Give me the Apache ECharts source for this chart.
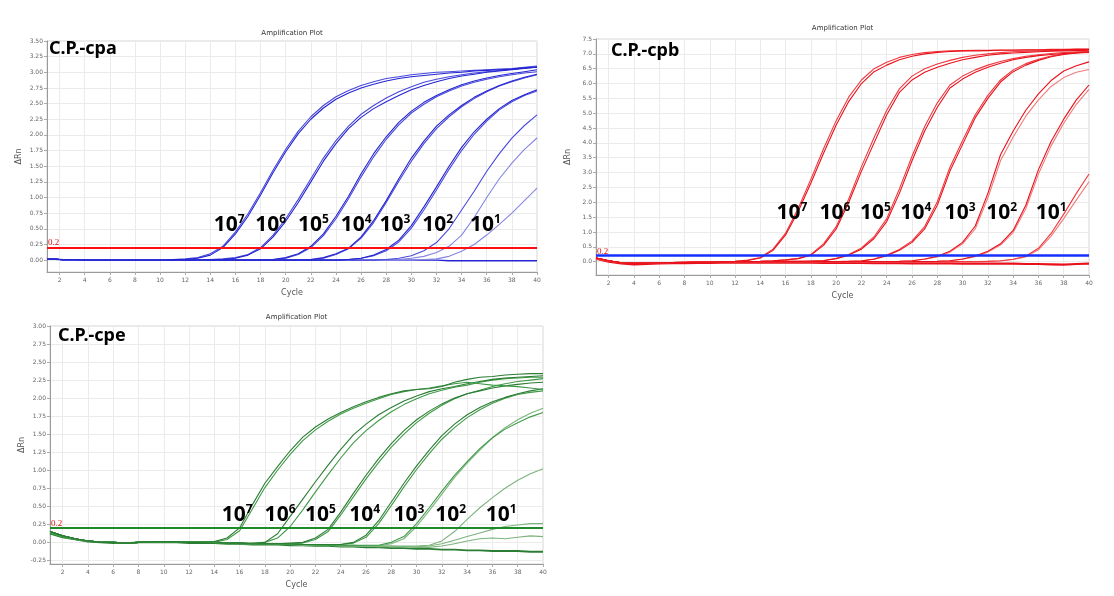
<!DOCTYPE html>
<html><head><meta charset="utf-8">
<script src="https://cdn.jsdelivr.net/npm/echarts@6/dist/echarts.min.js"></script>
<style>html,body{margin:0;padding:0;background:#fff}#c{width:1114px;height:596px}</style>
</head><body><div id="c"></div>
<script>
const cycles = [1,2,3,4,5,6,7,8,9,10,11,12,13,14,15,16,17,18,19,20,21,22,23,24,25,26,27,28,29,30,31,32,33,34,35,36,37,38,39,40];
const xTicks = [2,4,6,8,10,12,14,16,18,20,22,24,26,28,30,32,34,36,38,40];
const cpaTicks = [0,0.25,0.5,0.75,1,1.25,1.5,1.75,2,2.25,2.5,2.75,3,3.25,3.5];
const cpbTicks = [0,0.5,1,1.5,2,2.5,3,3.5,4,4.5,5,5.5,6,6.5,7,7.5];
const cpeTicks = [-0.25,0,0.25,0.5,0.75,1,1.25,1.5,1.75,2,2.25,2.5,2.75,3];
const dilutionExponents = ['7','6','5','4','3','2','1'];
const threshold = 0.2;

// ---- C.P.-cpa (blue) ----
const cpa_7a = [0.02,0.01,0.01,0.00,0.00,0.00,0.00,0.00,0.00,0.00, 0.01,0.01,0.03,0.08,0.20,0.42,0.70,1.04,1.40,1.73, 2.02,2.25,2.43,2.57,2.67,2.75,2.81,2.86,2.90,2.93, 2.95,2.97,2.99,3.00,3.02,3.03,3.04,3.05,3.07,3.08];
const cpa_7b = [0.02,0.01,0.00,0.00,0.00,0.00,0.00,0.00,0.00,0.00, 0.01,0.02,0.04,0.10,0.22,0.45,0.74,1.08,1.44,1.77, 2.06,2.29,2.47,2.61,2.71,2.79,2.85,2.90,2.93,2.96, 2.98,3.00,3.01,3.02,3.03,3.04,3.05,3.06,3.08,3.10];
const cpa_6a = [0.02,0.01,0.00,0.00,0.00,0.00,0.00,0.00,0.00,0.00, 0.00,0.00,0.00,0.01,0.01,0.03,0.08,0.18,0.37,0.62, 0.92,1.25,1.58,1.86,2.10,2.28,2.42,2.53,2.63,2.72, 2.79,2.85,2.90,2.94,2.97,3.00,3.02,3.04,3.06,3.08];
const cpa_6b = [0.02,0.01,0.00,0.00,0.00,0.00,0.00,0.00,0.00,0.00, 0.00,0.00,0.00,0.01,0.02,0.04,0.09,0.20,0.40,0.66, 0.97,1.30,1.63,1.91,2.14,2.33,2.47,2.59,2.69,2.77, 2.84,2.89,2.93,2.96,2.99,3.01,3.03,3.05,3.07,3.09];
const cpa_5a = [0.02,0.01,0.00,0.00,0.00,0.00,0.00,0.00,0.00,0.00, 0.00,0.00,0.00,0.00,0.00,0.00,0.00,0.00,0.01,0.04, 0.10,0.22,0.42,0.70,1.02,1.38,1.70,1.97,2.20,2.38, 2.52,2.63,2.72,2.80,2.86,2.91,2.95,2.98,3.01,3.04];
const cpa_5b = [0.02,0.01,0.00,0.00,0.00,0.00,0.00,0.00,0.00,0.00, 0.00,0.00,0.00,0.00,0.00,0.00,0.00,0.00,0.01,0.03, 0.09,0.20,0.39,0.66,0.98,1.33,1.65,1.93,2.16,2.35, 2.49,2.61,2.70,2.78,2.84,2.89,2.93,2.96,2.99,3.01];
const cpa_4a = [0.02,0.01,0.00,0.00,0.00,0.00,0.00,0.00,0.00,0.00, 0.00,0.00,0.00,0.00,0.00,0.00,0.00,0.00,0.00,0.00, 0.00,0.01,0.04,0.10,0.19,0.37,0.63,0.95,1.30,1.63, 1.90,2.14,2.32,2.47,2.60,2.70,2.79,2.86,2.92,2.97];
const cpa_4b = [0.02,0.01,0.00,0.00,0.00,0.00,0.00,0.00,0.00,0.00, 0.00,0.00,0.00,0.00,0.00,0.00,0.00,0.00,0.00,0.00, 0.00,0.01,0.03,0.09,0.18,0.35,0.60,0.92,1.26,1.58, 1.86,2.10,2.29,2.45,2.58,2.69,2.78,2.85,2.91,2.96];
const cpa_3a = [0.02,0.01,0.00,0.00,0.00,0.00,0.00,0.00,0.00,0.00, 0.00,0.00,0.00,0.00,0.00,0.00,0.00,0.00,0.00,0.00, 0.00,0.00,0.00,0.00,0.01,0.03,0.08,0.17,0.32,0.55, 0.85,1.17,1.50,1.80,2.05,2.25,2.42,2.55,2.64,2.72];
const cpa_3b = [0.02,0.01,0.00,0.00,0.00,0.00,0.00,0.00,0.00,0.00, 0.00,0.00,0.00,0.00,0.00,0.00,0.00,0.00,0.00,0.00, 0.00,0.00,0.00,0.00,0.01,0.03,0.07,0.15,0.29,0.51, 0.80,1.12,1.45,1.75,2.01,2.22,2.40,2.53,2.63,2.70];
const cpa_2a = [0.02,0.01,0.00,0.00,0.00,0.00,0.00,0.00,0.00,0.00, 0.00,0.00,0.00,0.00,0.00,0.00,0.00,0.00,0.00,0.00, 0.00,0.00,0.00,0.00,0.00,0.00,0.00,0.01,0.03,0.07, 0.15,0.28,0.50,0.80,1.10,1.42,1.70,1.95,2.15,2.32];
const cpa_2b = [0.02,0.01,0.00,0.00,0.00,0.00,0.00,0.00,0.00,0.00, 0.00,0.00,0.00,0.00,0.00,0.00,0.00,0.00,0.00,0.00, 0.00,0.00,0.00,0.00,0.00,0.00,0.00,0.00,0.01,0.03, 0.06,0.12,0.22,0.40,0.68,1.00,1.30,1.55,1.77,1.95];
const cpa_1a = [0.02,0.01,0.00,0.00,0.00,0.00,0.00,0.00,0.00,0.00, 0.00,0.00,0.00,0.00,0.00,0.00,0.00,0.00,0.00,0.00, 0.00,0.00,0.00,0.00,0.00,0.00,0.00,0.00,0.00,0.00, 0.01,0.02,0.06,0.14,0.25,0.40,0.57,0.75,0.95,1.15];
const cpa_neg = [0.02,0.01,0.00,0.00,0.00,0.00,0.00,0.00,0.00,0.00, 0.00,0.00,0.00,0.00,0.00,0.00,0.00,0.00,0.00,0.00, 0.00,0.00,0.00,0.00,0.00,0.00,0.00,0.00,0.00,0.00, 0.00,0.00,-0.01,-0.01,-0.01,-0.01,-0.01,-0.01,-0.01,-0.01];

// ---- C.P.-cpb (red) ----
const cpb_7a = [0.12,0.03,-0.04,-0.06,-0.05,-0.04,-0.03,-0.03,-0.02,-0.01, 0.00,0.01,0.04,0.12,0.38,0.90,1.70,2.65,3.65,4.60, 5.40,6.00,6.40,6.62,6.80,6.92,7.00,7.05,7.08,7.10, 7.10,7.11,7.12,7.12,7.13,7.13,7.14,7.14,7.15,7.15];
const cpb_7b = [0.10,0.02,-0.04,-0.05,-0.05,-0.04,-0.03,-0.02,-0.02,-0.01, 0.00,0.01,0.05,0.14,0.42,0.96,1.80,2.78,3.80,4.75, 5.55,6.12,6.50,6.72,6.88,6.98,7.04,7.08,7.10,7.11, 7.12,7.12,7.13,7.13,7.14,7.14,7.15,7.15,7.16,7.16];
const cpb_6a = [0.12,0.03,-0.04,-0.06,-0.05,-0.04,-0.03,-0.03,-0.02,-0.02, -0.01,0.00,0.00,0.01,0.03,0.06,0.10,0.22,0.55,1.10, 2.00,3.05,4.00,4.95,5.70,6.12,6.38,6.55,6.68,6.80, 6.88,6.95,7.00,7.03,7.05,7.07,7.09,7.10,7.11,7.12];
const cpb_6b = [0.10,0.02,-0.04,-0.05,-0.05,-0.04,-0.03,-0.02,-0.02,-0.02, -0.01,0.00,0.00,0.01,0.03,0.06,0.11,0.24,0.60,1.18, 2.12,3.20,4.18,5.10,5.82,6.25,6.50,6.66,6.78,6.88, 6.95,7.00,7.04,7.07,7.09,7.10,7.11,7.12,7.13,7.13];
const cpb_5a = [0.12,0.03,-0.04,-0.06,-0.05,-0.04,-0.03,-0.03,-0.02,-0.02, -0.01,0.00,0.00,0.00,0.00,0.01,0.01,0.02,0.03,0.10, 0.22,0.42,0.78,1.35,2.30,3.40,4.40,5.20,5.85,6.15, 6.38,6.55,6.68,6.80,6.88,6.94,6.98,7.01,7.03,7.05];
const cpb_5b = [0.10,0.02,-0.04,-0.05,-0.05,-0.04,-0.03,-0.02,-0.02,-0.02, -0.01,0.00,0.00,0.00,0.00,0.01,0.01,0.02,0.04,0.11, 0.24,0.46,0.84,1.45,2.45,3.55,4.55,5.35,5.95,6.25, 6.46,6.62,6.74,6.84,6.92,6.97,7.01,7.04,7.06,7.08];
const cpb_4a = [0.12,0.03,-0.04,-0.06,-0.05,-0.04,-0.03,-0.03,-0.02,-0.02, -0.01,0.00,0.00,0.00,0.00,0.00,0.00,0.00,0.00,0.00, 0.01,0.02,0.08,0.20,0.38,0.65,1.10,1.90,3.05,3.95, 4.85,5.50,6.05,6.40,6.62,6.78,6.90,6.98,7.03,7.07];
const cpb_4b = [0.10,0.02,-0.04,-0.05,-0.05,-0.04,-0.03,-0.02,-0.02,-0.02, -0.01,0.00,0.00,0.00,0.00,0.00,0.00,0.00,0.00,0.00, 0.01,0.03,0.09,0.22,0.41,0.70,1.18,2.02,3.18,4.08, 4.95,5.60,6.12,6.46,6.67,6.82,6.93,7.00,7.05,7.09];
const cpb_3a = [0.12,0.03,-0.04,-0.06,-0.05,-0.04,-0.03,-0.03,-0.02,-0.02, -0.01,0.00,0.00,0.00,0.00,0.00,0.00,0.00,0.00,0.00, 0.00,0.00,0.00,0.00,0.01,0.03,0.09,0.18,0.35,0.65, 1.20,2.30,3.60,4.40,5.10,5.65,6.10,6.42,6.60,6.73];
const cpb_3b = [0.10,0.02,-0.04,-0.05,-0.05,-0.04,-0.03,-0.02,-0.02,-0.02, -0.01,0.00,0.00,0.00,0.00,0.00,0.00,0.00,0.00,0.00, 0.00,0.00,0.00,0.00,0.01,0.03,0.08,0.16,0.32,0.60, 1.10,2.15,3.40,4.20,4.90,5.45,5.90,6.20,6.38,6.47];
const cpb_2a = [0.12,0.03,-0.04,-0.06,-0.05,-0.04,-0.03,-0.03,-0.02,-0.02, -0.01,0.00,0.00,0.00,0.00,0.00,0.00,0.00,0.00,0.00, 0.00,0.00,0.00,0.00,0.00,0.00,0.00,0.01,0.03,0.09, 0.19,0.35,0.60,1.05,1.90,3.10,4.05,4.80,5.45,5.95];
const cpb_2b = [0.10,0.02,-0.04,-0.05,-0.05,-0.04,-0.03,-0.02,-0.02,-0.02, -0.01,0.00,0.00,0.00,0.00,0.00,0.00,0.00,0.00,0.00, 0.00,0.00,0.00,0.00,0.00,0.00,0.00,0.01,0.03,0.08, 0.17,0.32,0.56,0.98,1.78,2.95,3.90,4.66,5.30,5.80];
const cpb_1a = [0.12,0.03,-0.04,-0.06,-0.05,-0.04,-0.03,-0.03,-0.02,-0.02, -0.01,0.00,0.00,0.00,0.00,0.00,0.00,0.00,0.00,0.00, 0.00,0.00,0.00,0.00,0.00,0.00,0.00,0.00,0.00,0.00, 0.00,0.01,0.03,0.08,0.18,0.45,0.95,1.60,2.30,2.95];
const cpb_1b = [0.10,0.02,-0.04,-0.05,-0.05,-0.04,-0.03,-0.02,-0.02,-0.02, -0.01,0.00,0.00,0.00,0.00,0.00,0.00,0.00,0.00,0.00, 0.00,0.00,0.00,0.00,0.00,0.00,0.00,0.00,0.00,0.00, 0.00,0.01,0.02,0.07,0.16,0.40,0.86,1.45,2.08,2.69];
const cpb_neg = [0.10,0.00,-0.06,-0.09,-0.08,-0.06,-0.05,-0.05,-0.04,-0.04, -0.03,-0.03,-0.03,-0.03,-0.03,-0.03,-0.03,-0.03,-0.04,-0.04, -0.04,-0.04,-0.05,-0.05,-0.05,-0.06,-0.06,-0.06,-0.06,-0.07, -0.07,-0.07,-0.07,-0.07,-0.08,-0.08,-0.09,-0.10,-0.08,-0.07];

// ---- C.P.-cpe (green) ----
const cpe_7a = [0.15,0.09,0.05,0.02,0.00,0.00,-0.01,0.00,0.01,0.01, 0.01,0.00,0.00,0.01,0.06,0.20,0.52,0.82,1.05,1.27, 1.46,1.60,1.71,1.80,1.88,1.95,2.01,2.06,2.10,2.12, 2.13,2.16,2.22,2.26,2.29,2.30,2.32,2.33,2.34,2.34];
const cpe_7b = [0.13,0.08,0.04,0.02,0.00,0.00,-0.01,0.00,0.01,0.01, 0.01,0.00,0.00,0.00,0.04,0.16,0.46,0.76,1.00,1.22, 1.41,1.56,1.68,1.78,1.86,1.93,1.99,2.05,2.09,2.12, 2.14,2.17,2.20,2.22,2.20,2.18,2.17,2.16,2.14,2.12];
const cpe_6a = [0.15,0.09,0.05,0.02,0.00,0.00,-0.01,0.00,0.01,0.01, 0.01,0.00,0.00,0.00,-0.01,-0.01,-0.01,0.00,0.12,0.36, 0.60,0.84,1.07,1.29,1.49,1.64,1.77,1.87,1.96,2.03, 2.09,2.13,2.16,2.20,2.23,2.26,2.28,2.29,2.30,2.31];
const cpe_6b = [0.13,0.08,0.04,0.02,0.00,0.00,-0.01,0.00,0.01,0.01, 0.01,0.00,0.00,0.00,-0.01,-0.02,-0.02,0.00,0.06,0.22, 0.45,0.70,0.94,1.17,1.38,1.55,1.69,1.81,1.91,1.99, 2.06,2.11,2.15,2.18,2.22,2.25,2.27,2.28,2.29,2.29];
const cpe_5a = [0.15,0.09,0.05,0.02,0.00,0.00,-0.01,0.00,0.01,0.01, 0.01,0.00,0.00,0.00,-0.01,-0.01,-0.02,-0.02,-0.02,-0.01, 0.00,0.06,0.18,0.42,0.68,0.93,1.16,1.37,1.55,1.70, 1.82,1.92,2.00,2.06,2.10,2.14,2.17,2.19,2.21,2.22];
const cpe_5b = [0.13,0.08,0.04,0.02,0.00,0.00,-0.01,0.00,0.01,0.01, 0.01,0.00,0.00,0.00,-0.01,-0.02,-0.02,-0.03,-0.03,-0.02, -0.01,0.04,0.15,0.38,0.63,0.88,1.11,1.32,1.50,1.66, 1.79,1.90,1.99,2.06,2.11,2.16,2.20,2.23,2.25,2.27];
const cpe_4a = [0.15,0.09,0.05,0.02,0.00,0.00,-0.01,0.00,0.01,0.01, 0.01,0.00,0.00,0.00,-0.01,-0.01,-0.02,-0.02,-0.02,-0.02, -0.03,-0.03,-0.03,-0.03,0.00,0.10,0.30,0.56,0.82,1.06, 1.28,1.48,1.64,1.77,1.87,1.95,2.01,2.06,2.10,2.13];
const cpe_4b = [0.13,0.08,0.04,0.02,0.00,0.00,-0.01,0.00,0.01,0.01, 0.01,0.00,0.00,0.00,-0.01,-0.02,-0.02,-0.03,-0.03,-0.03, -0.03,-0.04,-0.04,-0.03,-0.01,0.07,0.26,0.51,0.77,1.01, 1.23,1.43,1.59,1.73,1.84,1.93,2.00,2.05,2.08,2.10];
const cpe_3a = [0.15,0.09,0.05,0.02,0.00,0.00,-0.01,0.00,0.01,0.01, 0.01,0.00,0.00,0.00,-0.01,-0.01,-0.02,-0.02,-0.02,-0.03, -0.03,-0.03,-0.04,-0.04,-0.04,-0.04,-0.04,0.00,0.08,0.26, 0.48,0.71,0.93,1.12,1.30,1.45,1.57,1.66,1.74,1.80];
const cpe_3b = [0.13,0.08,0.04,0.02,0.00,0.00,-0.01,0.00,0.01,0.01, 0.01,0.00,0.00,0.00,-0.01,-0.02,-0.02,-0.03,-0.03,-0.03, -0.04,-0.04,-0.04,-0.05,-0.05,-0.05,-0.05,-0.02,0.05,0.22, 0.44,0.67,0.90,1.10,1.28,1.45,1.59,1.70,1.79,1.86];
const cpe_2a = [0.15,0.09,0.05,0.02,0.00,0.00,-0.01,0.00,0.01,0.01, 0.01,0.00,0.00,0.00,-0.01,-0.01,-0.02,-0.02,-0.02,-0.03, -0.03,-0.03,-0.04,-0.04,-0.04,-0.05,-0.05,-0.05,-0.05,-0.05, -0.04,0.02,0.15,0.32,0.48,0.62,0.75,0.86,0.95,1.02];
const cpe_1a = [0.15,0.09,0.05,0.02,0.00,0.00,-0.01,0.00,0.01,0.01, 0.01,0.00,0.00,0.00,-0.01,-0.01,-0.02,-0.02,-0.02,-0.03, -0.03,-0.03,-0.04,-0.04,-0.04,-0.05,-0.05,-0.05,-0.06,-0.06, -0.05,-0.02,0.03,0.08,0.13,0.18,0.22,0.24,0.26,0.26];
const cpe_1b = [0.13,0.08,0.04,0.02,0.00,0.00,-0.01,0.00,0.01,0.01, 0.01,0.00,0.00,0.00,-0.01,-0.02,-0.02,-0.03,-0.03,-0.03, -0.04,-0.04,-0.04,-0.05,-0.05,-0.05,-0.06,-0.06,-0.06,-0.07, -0.07,-0.05,-0.02,0.02,0.05,0.06,0.05,0.07,0.09,0.08];
const cpe_neg = [0.12,0.07,0.04,0.01,0.00,-0.01,-0.01,0.00,0.00,0.00, 0.00,-0.01,-0.01,-0.01,-0.02,-0.02,-0.03,-0.03,-0.03,-0.04, -0.04,-0.05,-0.05,-0.06,-0.06,-0.07,-0.07,-0.08,-0.08,-0.09, -0.09,-0.10,-0.10,-0.11,-0.11,-0.12,-0.12,-0.12,-0.13,-0.13];

// ---------- layout / style ----------
const B = ['#2424d2', '#4848dc', '#8585e2'];
const R = ['#e8101a', '#f0383e', '#f27a7a'];
const G = ['#2b7d33', '#3f9a47', '#7cb47c'];
const panels = [
  { name:'C.P.-cpa', grid:{left:47, top:41, width:490, height:231}, yMin:-0.19, yMax:3.5, yTicks:cpaTicks, dec:2,
    thrColor:'#ff1010', thrWidth:2,
    curves:[[cpa_neg,B[0],1.4],[cpa_1a,B[2],1.1],[cpa_2b,B[2],1.1],[cpa_2a,B[1],1.1],[cpa_3b,B[1],1.1],[cpa_3a,B[0],1.1],
            [cpa_4b,B[1],1.1],[cpa_4a,B[0],1.1],[cpa_5b,B[1],1.1],[cpa_5a,B[0],1.1],[cpa_6b,B[1],1.1],[cpa_6a,B[0],1.1],[cpa_7b,B[1],1.1],[cpa_7a,B[0],1.1]],
    labelAt:[[15.5,0.56],[18.8,0.56],[22.2,0.56],[25.6,0.56],[28.7,0.56],[32.1,0.56],[35.9,0.56]],
    tag:{x:49, y:40}, titleY:30 },
  { name:'C.P.-cpb', grid:{left:596, top:39, width:493, height:236}, yMin:-0.45, yMax:7.5, yTicks:cpbTicks, dec:1,
    thrColor:'#1530ff', thrWidth:2.5,
    curves:[[cpb_neg,R[0],2.2],[cpb_1b,R[2],1.1],[cpb_1a,R[1],1.1],[cpb_2b,R[2],1.1],[cpb_2a,R[0],1.1],[cpb_3b,R[2],1.1],[cpb_3a,R[0],1.1],
            [cpb_4b,R[1],1.1],[cpb_4a,R[0],1.1],[cpb_5b,R[1],1.1],[cpb_5a,R[0],1.1],[cpb_6b,R[1],1.1],[cpb_6a,R[0],1.1],[cpb_7b,R[1],1.1],[cpb_7a,R[0],1.1]],
    labelAt:[[16.5,1.64],[19.9,1.64],[23.1,1.64],[26.3,1.64],[29.8,1.64],[33.1,1.64],[37.0,1.64]],
    tag:{x:611, y:42}, titleY:25 },
  { name:'C.P.-cpe', grid:{left:50, top:326, width:493, height:238}, yMin:-0.30, yMax:3.0, yTicks:cpeTicks, dec:2,
    thrColor:'#1f8a2a', thrWidth:2,
    curves:[[cpe_neg,G[0],1.8],[cpe_1b,G[2],1.1],[cpe_1a,G[2],1.1],[cpe_2a,G[2],1.1],[cpe_3b,G[2],1.1],[cpe_3a,G[1],1.1],
            [cpe_4b,G[1],1.1],[cpe_4a,G[0],1.1],[cpe_5b,G[1],1.1],[cpe_5a,G[0],1.1],[cpe_6b,G[1],1.1],[cpe_6a,G[0],1.1],[cpe_7b,G[1],1.1],[cpe_7a,G[0],1.1]],
    labelAt:[[15.8,0.38],[19.2,0.38],[22.4,0.38],[25.9,0.38],[29.4,0.38],[32.7,0.38],[36.7,0.38]],
    tag:{x:58, y:327}, titleY:314 }
];

const grids = [], xAxes = [], yAxes = [], series = [], titles = [];
panels.forEach((p, i) => {
  grids.push(Object.assign({ show:true, borderColor:'#d4d4d4', borderWidth:1, backgroundColor:'#fff' }, p.grid));
  xAxes.push({ type:'value', gridIndex:i, min:1, max:40,
    name:'Cycle', nameLocation:'middle', nameGap:17, nameTextStyle:{ fontSize:8, color:'#555', fontFamily:'DejaVu Sans' },
    axisLine:{ onZero:false, lineStyle:{ color:'#9a9a9a' } },
    axisTick:{ customValues:xTicks, length:3, lineStyle:{ color:'#aaa' } },
    axisLabel:{ customValues:xTicks, fontSize:6, color:'#666', margin:5, fontFamily:'DejaVu Sans' },
    splitLine:{ show:true, lineStyle:{ color:'#ebebeb', width:1 } } });
  yAxes.push({ type:'value', gridIndex:i, min:p.yMin, max:p.yMax,
    name:'\u0394Rn', nameLocation:'middle', nameGap:24, nameRotate:90, nameTextStyle:{ fontSize:8, color:'#555', fontFamily:'DejaVu Sans' },
    axisLine:{ show:true, onZero:false, lineStyle:{ color:'#9a9a9a' } },
    axisTick:{ show:true, customValues:p.yTicks, length:3, lineStyle:{ color:'#aaa' } },
    axisLabel:{ customValues:p.yTicks, fontSize:6, color:'#666', margin:4, fontFamily:'DejaVu Sans',
      formatter: v => Number(v).toFixed(p.dec) },
    splitLine:{ show:true, lineStyle:{ color:'#ebebeb', width:1 } } });
  p.curves.forEach(c => {
    series.push({ type:'line', xAxisIndex:i, yAxisIndex:i, symbol:'none', silent:true, animation:false,
      lineStyle:{ color:c[1], width:c[2] }, data: cycles.map((x, k) => [x, c[0][k]]) });
  });
  series.push({ type:'line', xAxisIndex:i, yAxisIndex:i, data:[], symbol:'none', animation:false, z:5,
    markLine:{ silent:true, symbol:'none', animation:false,
      lineStyle:{ color:p.thrColor, width:p.thrWidth, type:'solid' },
      label:{ show:true, position:'insideStartTop', distance:[1,0], formatter:String(threshold), color:'#e01010', fontSize:9, fontFamily:'Liberation Serif' },
      data:[{ yAxis:threshold }] } });
  series.push({ type:'scatter', xAxisIndex:i, yAxisIndex:i, symbolSize:2, itemStyle:{ color:'rgba(0,0,0,0)', opacity:1 }, animation:false, z:10, silent:true,
    data: p.labelAt.map((pt, k) => [pt[0], pt[1], dilutionExponents[k]]),
    label:{ show:true, position:'inside', color:'#000', textBorderWidth:0, formatter: d => '{a|10}{s|' + d.data[2] + '}',
      rich:{ a:{ fontSize:21, fontWeight:'bold', color:'#000', textBorderWidth:0, fontFamily:'Noto Sans' },
             s:{ fontSize:12, fontWeight:'bold', color:'#000', textBorderWidth:0, fontFamily:'Noto Sans', padding:[0,0,10,0] } } } });
  titles.push({ text:'Amplification Plot', left:p.grid.left + p.grid.width/2, top:p.titleY, textAlign:'center', padding:0,
    textStyle:{ fontSize:7, fontWeight:'normal', color:'#333', fontFamily:'DejaVu Sans' } });
  titles.push({ text:p.name, left:p.tag.x, top:p.tag.y, padding:0,
    textStyle:{ fontSize:18, fontWeight:'bold', color:'#000', fontFamily:'Noto Sans' } });
});

const chart = echarts.init(document.getElementById('c'), null, { renderer:'canvas' });
chart.setOption({ backgroundColor:'#fff', animation:false, title:titles, grid:grids, xAxis:xAxes, yAxis:yAxes, series:series });
</script></body></html>
